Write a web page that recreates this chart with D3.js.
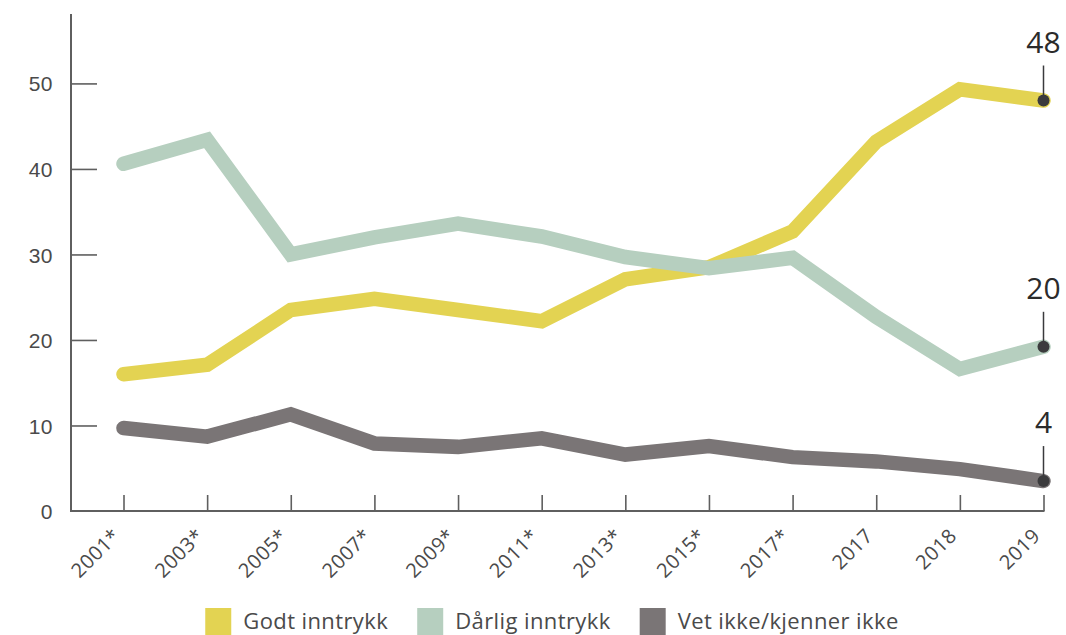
<!DOCTYPE html>
<html>
<head>
<meta charset="utf-8">
<script src="https://cdn.jsdelivr.net/npm/d3@7"></script>
<style>
  html, body { margin: 0; padding: 0; background: #fff; }
  svg { display: block; font-family: "Open Sans", sans-serif; }
</style>
</head>
<body>
<svg id="chart" width="1066" height="635"></svg>
<script>
// ---- data ----
const categories = ["2001*", "2003*", "2005*", "2007*", "2009*", "2011*", "2013*", "2015*", "2017*", "2017", "2018", "2019"];
const godt    = [16.0, 17.1, 23.5, 24.8, 23.5, 22.2, 27.1, 28.5, 32.7, 43.2, 49.3, 48.0];
const darlig  = [40.6, 43.4, 30.0, 32.0, 33.6, 32.1, 29.7, 28.4, 29.6, 22.7, 16.6, 19.2];
const vetIkke = [9.7, 8.7, 11.3, 7.9, 7.5, 8.5, 6.6, 7.6, 6.3, 5.8, 4.9, 3.5];
const endLabels = ["48", "20", "4"];
const seriesNames = ["Godt inntrykk", "Dårlig inntrykk", "Vet ikke/kjenner ikke"];
const yTicks = [0, 10, 20, 30, 40, 50];

const colors = ["#e3d352", "#b6cfbf", "#7a7576"];
const series = [godt, darlig, vetIkke];

const svg = d3.select("#chart");
const textColor = "#4a4a4a";
const axisColor = "#5f5f5f";

const x = d3.scalePoint().domain(d3.range(categories.length)).range([123.5, 1043.5]);
const y = d3.scaleLinear().domain([0, 58]).range([511, 15]);

// ---- axes ----
const axisG = svg.append("g");
axisG.append("line")
  .attr("x1", 71).attr("x2", 71)
  .attr("y1", y(58) - 1).attr("y2", y(0) + 1)
  .attr("stroke", axisColor).attr("stroke-width", 2);
axisG.append("line")
  .attr("x1", 70).attr("x2", x(categories.length - 1) + 1)
  .attr("y1", y(0)).attr("y2", y(0))
  .attr("stroke", axisColor).attr("stroke-width", 2);

// y ticks
const yAxis = d3.axisRight(y).tickValues(yTicks).tickSize(26).tickFormat("");
const yG = svg.append("g").attr("transform", "translate(71,0)").call(yAxis);
yG.select(".domain").remove();
yG.selectAll(".tick line").attr("stroke", axisColor).attr("stroke-width", 1.6);
yG.selectAll(".tick").filter(d => d === 0).select("line").remove();
yG.selectAll(".tick").append("text")
  .attr("x", -18).attr("y", 0).attr("dy", "0.36em")
  .attr("text-anchor", "end")
  .attr("fill", textColor)
  .style("font-size", "21px")
  .style("letter-spacing", "0.5px")
  .text(d => d);

// x ticks (pointing up from baseline)
const xAxis = d3.axisTop(x).tickSize(16).tickFormat("");
const xG = svg.append("g").attr("transform", `translate(0,${y(0)})`).call(xAxis);
xG.select(".domain").remove();
xG.selectAll(".tick line").attr("stroke", axisColor).attr("stroke-width", 1.6);

// x labels
svg.append("g").selectAll("text")
  .data(categories)
  .join("text")
  .attr("transform", (d, i) => `translate(${x(i) - 2},537) rotate(-45)`)
  .attr("text-anchor", "end")
  .attr("fill", textColor)
  .style("font-size", "20px")
  .style("letter-spacing", "0.5px")
  .text(d => d);

// ---- lines ----
const line = d3.line().x((d, i) => x(i)).y(d => y(d));
series.forEach((s, k) => {
  svg.append("path")
    .datum(s)
    .attr("d", line)
    .attr("fill", "none")
    .attr("stroke", colors[k])
    .attr("stroke-width", 14.5)
    .attr("stroke-linecap", "round")
    .attr("stroke-linejoin", "miter")
    .attr("stroke-miterlimit", 10);
});

// ---- end markers & labels ----
const last = categories.length - 1;
series.forEach((s, k) => {
  const cx = x(last), cy = y(s[last]);
  svg.append("line")
    .attr("x1", cx).attr("x2", cx)
    .attr("y1", cy - 35).attr("y2", cy)
    .attr("stroke", "#3a3a3c").attr("stroke-width", 1.5);
  svg.append("circle")
    .attr("cx", cx).attr("cy", cy).attr("r", 6)
    .attr("fill", "#3b3b3d");
  svg.append("text")
    .attr("x", cx).attr("y", cy - 48)
    .attr("text-anchor", "middle")
    .attr("fill", "#2b2b2b")
    .style("font-size", "30px")
    .text(endLabels[k]);
});

// ---- legend ----
const legend = svg.append("g");
let lx = 0;
seriesNames.forEach((name, k) => {
  const g = legend.append("g");
  g.append("rect").attr("x", 0).attr("y", 608).attr("width", 26).attr("height", 27).attr("fill", colors[k]);
  const t = g.append("text")
    .attr("x", 38).attr("y", 629)
    .attr("fill", textColor)
    .style("font-size", "22px")
    .style("letter-spacing", "0.4px")
    .text(name);
  const w = t.node().getComputedTextLength();
  g.attr("transform", `translate(${lx},0)`);
  lx += 38 + w + 29;
});
const totalW = lx - 29;
legend.attr("transform", `translate(${552 - totalW / 2},0)`);
</script>
</body>
</html>
